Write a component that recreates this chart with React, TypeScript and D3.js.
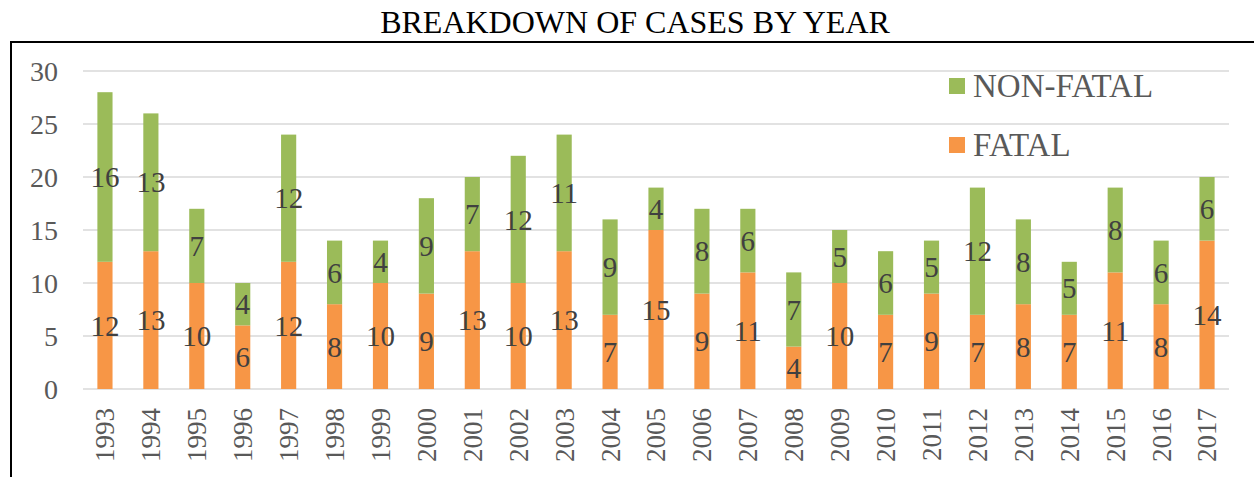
import { useEffect, useRef } from 'react'
import * as d3 from 'd3'

// values
const years = [
  '1993', '1994', '1995', '1996', '1997', '1998', '1999', '2000', '2001',
  '2002', '2003', '2004', '2005', '2006', '2007', '2008', '2009', '2010',
  '2011', '2012', '2013', '2014', '2015', '2016', '2017',
]
const fatal = [12, 13, 10, 6, 12, 8, 10, 9, 13, 10, 13, 7, 15, 9, 11, 4, 10, 7, 9, 7, 8, 7, 11, 8, 14]
const nonFatal = [16, 13, 7, 4, 12, 6, 4, 9, 7, 12, 11, 9, 4, 8, 6, 7, 5, 6, 5, 12, 8, 5, 8, 6, 6]
const yTicks = [0, 5, 10, 15, 20, 25, 30]
const seriesNames = ['FATAL', 'NON-FATAL']

export default function App() {
  const svgRef = useRef<SVGSVGElement>(null)

  useEffect(() => {
    if (!svgRef.current) return
    const svg = d3.select(svgRef.current)
    svg.selectAll('*').remove()

    const width = 1254
    const height = 477
    const font = "'Liberation Serif', 'Times New Roman', serif"
    const colors: Record<string, string> = { FATAL: '#F79646', 'NON-FATAL': '#9BBB59' }

    const x = d3.scaleBand().domain(years).range([82, 1230]).paddingInner(0.67).paddingOuter(0.335)
    const y = d3.scaleLinear().domain([0, 30]).range([389, 71])

    svg.attr('width', width).attr('height', height)

    svg.append('rect').attr('width', width).attr('height', height).attr('fill', '#fff')

    // outer frame
    svg.append('rect')
      .attr('x', 11).attr('y', 42)
      .attr('width', width + 20).attr('height', height)
      .attr('fill', 'none').attr('stroke', '#000').attr('stroke-width', 2)

    // title
    svg.append('text')
      .attr('x', 635).attr('y', 33)
      .attr('text-anchor', 'middle')
      .style('font-family', font)
      .style('font-size', '32px')
      .attr('fill', '#000')
      .text('BREAKDOWN OF CASES BY YEAR')

    // gridlines
    svg.append('g').selectAll('line')
      .data(yTicks).enter().append('line')
      .attr('x1', 83).attr('x2', 1229)
      .attr('y1', d => y(d)).attr('y2', d => y(d))
      .attr('stroke', '#d9d9d9').attr('stroke-width', 1.5)

    // y tick labels
    svg.append('g').selectAll('text')
      .data(yTicks).enter().append('text')
      .attr('x', 58).attr('y', d => y(d))
      .attr('dy', '0.35em')
      .attr('text-anchor', 'end')
      .style('font-family', font)
      .style('font-size', '28px')
      .attr('fill', '#595959')
      .text(d => d)

    // stacked bars
    const rows = years.map((yr, i) => ({ year: yr, FATAL: fatal[i], 'NON-FATAL': nonFatal[i] }))
    const stacked = d3.stack<any>().keys(seriesNames)(rows)

    const layers = svg.append('g').selectAll('g')
      .data(stacked).enter().append('g')
      .attr('fill', d => colors[d.key])

    layers.selectAll('rect')
      .data(d => d).enter().append('rect')
      .attr('x', d => x(d.data.year) as number)
      .attr('width', x.bandwidth())
      .attr('y', d => y(d[1]))
      .attr('height', d => y(d[0]) - y(d[1]))

    // data labels
    layers.selectAll('text')
      .data(d => d).enter().append('text')
      .attr('x', d => (x(d.data.year) as number) + x.bandwidth() / 2)
      .attr('y', d => y((d[0] + d[1]) / 2))
      .attr('dy', '0.35em')
      .attr('text-anchor', 'middle')
      .style('font-family', font)
      .style('font-size', '29px')
      .attr('fill', '#404040')
      .text(d => d[1] - d[0])

    // x tick labels
    svg.append('g').selectAll('text')
      .data(years).enter().append('text')
      .attr('transform', d => `translate(${(x(d) as number) + x.bandwidth() / 2},408) rotate(-90)`)
      .attr('dy', '0.35em')
      .attr('text-anchor', 'end')
      .style('font-family', font)
      .style('font-size', '27px')
      .attr('fill', '#595959')
      .text(d => d)

    // legend
    const legend = [
      { name: 'NON-FATAL', yPos: 86 },
      { name: 'FATAL', yPos: 145 },
    ]
    const lg = svg.append('g').selectAll('g')
      .data(legend).enter().append('g')
    lg.append('rect')
      .attr('x', 949).attr('y', d => d.yPos - 8)
      .attr('width', 16).attr('height', 16)
      .attr('fill', d => colors[d.name])
    lg.append('text')
      .attr('x', 973).attr('y', d => d.yPos + 11)
      .style('font-family', font)
      .style('font-size', '33px')
      .attr('fill', '#595959')
      .text(d => d.name)
  }, [])

  return <svg ref={svgRef} style={{ position: 'absolute', left: 0, top: 0 }}></svg>
}
